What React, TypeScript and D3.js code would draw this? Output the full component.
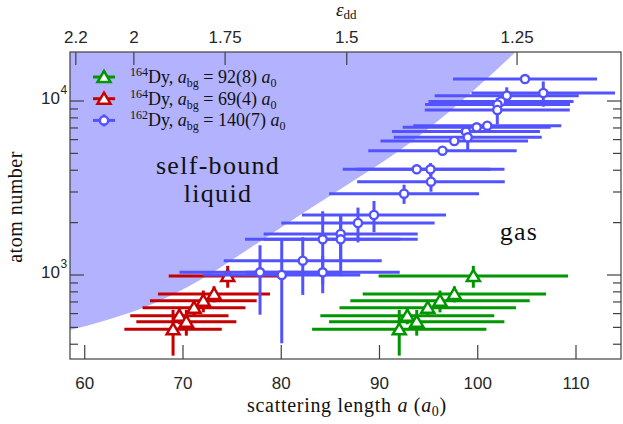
import React from 'react';
import * as d3 from 'd3';

// ---------- data ----------
const atomN = [987, 778, 712, 649, 584, 539, 487];
const atomNErr = [142, 82, 102, 70, 63, 91, 143];
const greenA = [99.55, 97.62, 96.16, 94.91, 92.83, 93.79, 92.01];
const greenAErr = [9.64, 9.33, 9.13, 8.98, 8.85, 8.92, 8.87];
const redA = [74.55, 73.16, 72.07, 71.12, 69.63, 70.34, 68.99];
const redAErr = [6.0, 5.7, 5.43, 5.24, 5.0, 5.09, 4.96];

const blueA = [104.81, 106.67, 102.95, 102.37, 102.01, 101.99, 100.97, 99.89, 98.8, 98.98, 97.61, 96.41, 93.79, 95.19, 95.24, 92.5, 89.44, 87.81, 86.05, 86.05, 84.22, 82.19, 84.22, 77.84, 80.05];
const blueAErr = [7.33, 7.3, 7.33, 7.38, 7.38, 7.38, 7.53, 7.53, 7.53, 7.53, 7.51, 7.55, 7.53, 7.53, 7.51, 7.63, 7.33, 7.8, 7.84, 7.84, 7.91, 8.04, 7.84, 8.19, 7.99];
const blueN = [13375, 11120, 10728, 9934, 9548, 8878, 7211, 7062, 6677, 6185, 5890, 5182, 4050, 4050, 3437, 2932, 2212, 1990, 1720, 1604, 1604, 1208, 1036, 1036, 1000];
const blueNErr = [500, 1840, 1260, 400, 300, 1530, 300, 300, 300, 956, 300, 300, 250, 350, 426, 370, 450, 450, 520, 620, 720, 440, 250, 445, 595];

const boundaryA = [58.5, 61.57, 66.65, 71.73, 76.82, 81.91, 87.0, 92.09, 97.18, 102.98, 104.3];
const boundaryN = [483, 537, 673, 936, 1429, 2212, 3381, 5226, 8770, 17218, 20200];

const xTicks = [60, 70, 80, 90, 100, 110];
const epsTicks = [2.2, 2, 1.75, 1.5, 1.25];
const epsLabels = ['2.2', '2', '1.75', '1.5', '1.25'];
const add = 130;
const yMajor = [1000, 10000];
const yMajorExp = ['3', '4'];
const yMinor = [400, 500, 600, 700, 800, 900, 2000, 3000, 4000, 5000, 6000, 7000, 8000, 9000];

const legendIso = ['164', '164', '162'];
const legendAbg = ['92(8)', '69(4)', '140(7)'];

const GREEN = 'rgb(0,150,0)';
const RED = 'rgb(196,0,0)';
const BLUE = 'rgb(82,82,255)';
const FILL = 'rgb(178,178,255)';
const AXIS = '#404040';
const SERIF = '"Liberation Serif", "DejaVu Serif", serif';
const SANS = '"Liberation Sans", Arial, sans-serif';

function tri(cx: number, cy: number) {
  return `M${cx},${cy - 6}L${cx + 6.5},${cy + 5}L${cx - 6.5},${cy + 5}Z`;
}

export default function App() {
  const W = 623, H = 424;
  const L = 70, R = 621, T = 52, B = 359;
  const x = d3.scaleLinear().domain([58.5, 114.58]).range([L, R]);
  const y = d3.scaleLog().domain([329, 19130]).range([B, T]);

  const bpts: [number, number][] = boundaryA.map((a, i) => [x(a), y(boundaryN[i])]);
  const bline = d3.line().curve(d3.curveMonotoneX)(bpts) || '';
  const fillPath = bline + `L${x(boundaryA[0]) - 50},${T - 50}L${x(boundaryA[0]) - 50},${y(boundaryN[0])}Z`;

  const series = [
    { a: greenA, ea: greenAErr, n: atomN, en: atomNErr, color: GREEN, m: 'tri' },
    { a: redA, ea: redAErr, n: atomN, en: atomNErr, color: RED, m: 'tri' },
    { a: blueA, ea: blueAErr, n: blueN, en: blueNErr, color: BLUE, m: 'circ' },
  ];

  return (
    <svg width={W} height={H} style={{ position: 'absolute', left: 0, top: 0, display: 'block' }}>
      <defs>
        <clipPath id="plot">
          <rect x={L} y={T} width={R - L} height={B - T} />
        </clipPath>
      </defs>
      <rect x={0} y={0} width={W} height={H} fill="white" />
      <path d={fillPath} fill={FILL} clipPath="url(#plot)" />

      {series.map((s, si) => (
        <g key={si}>
          {s.a.map((a, i) => {
            const cx = x(a), cy = y(s.n[i]);
            return (
              <g key={i}>
                <line x1={x(a - s.ea[i])} x2={x(a + s.ea[i])} y1={cy} y2={cy} stroke={s.color} strokeWidth={3} />
                <line x1={cx} x2={cx} y1={y(s.n[i] - s.en[i])} y2={y(s.n[i] + s.en[i])} stroke={s.color} strokeWidth={3} />
              </g>
            );
          })}
          {s.a.map((a, i) => {
            const cx = x(a), cy = y(s.n[i]);
            return s.m === 'tri' ? (
              <path key={'m' + i} d={tri(cx, cy)} fill="white" stroke={s.color} strokeWidth={2.5} strokeLinejoin="miter" />
            ) : (
              <circle key={'m' + i} cx={cx} cy={cy} r={4.1} fill="white" stroke={s.color} strokeWidth={2.4} />
            );
          })}
        </g>
      ))}

      {/* frame */}
      <rect x={L} y={T} width={R - L} height={B - T} fill="none" stroke={AXIS} strokeWidth={1.2} />
      {xTicks.map((t) => (
        <g key={'xt' + t}>
          <line x1={x(t)} x2={x(t)} y1={B} y2={B - 14} stroke={AXIS} strokeWidth={1.2} />
          <text x={x(t)} y={389} textAnchor="middle" fontFamily={SANS} fontSize={17} fill="#262626">{t}</text>
        </g>
      ))}
      {epsTicks.map((e, i) => (
        <g key={'et' + i}>
          <line x1={x(add / e)} x2={x(add / e)} y1={T} y2={T + 13} stroke={AXIS} strokeWidth={1.2} />
          <text x={x(add / e)} y={43} textAnchor="middle" fontFamily={SANS} fontSize={17} fill="#262626">{epsLabels[i]}</text>
        </g>
      ))}
      {yMajor.map((t, i) => (
        <g key={'ym' + t}>
          <line x1={L} x2={L + 14} y1={y(t)} y2={y(t)} stroke={AXIS} strokeWidth={1.2} />
          <line x1={R} x2={R - 14} y1={y(t)} y2={y(t)} stroke={AXIS} strokeWidth={1.2} />
          <text x={60} y={y(t) + 3} textAnchor="end" fontFamily={SANS} fontSize={17} fill="#262626">10</text>
          <text x={60.5} y={y(t) - 7} textAnchor="start" fontFamily={SANS} fontSize={12} fill="#262626">{yMajorExp[i]}</text>
        </g>
      ))}
      {yMinor.map((t) => (
        <g key={'yn' + t}>
          <line x1={L} x2={L + 8} y1={y(t)} y2={y(t)} stroke={AXIS} strokeWidth={1.2} />
          <line x1={R} x2={R - 8} y1={y(t)} y2={y(t)} stroke={AXIS} strokeWidth={1.2} />
        </g>
      ))}

      {/* axis labels */}
      <text x={347} y={412} textAnchor="middle" fontFamily={SERIF} fontSize={20} letterSpacing={0.7} fill="#111">
        scattering length <tspan fontStyle="italic">a</tspan> (<tspan fontStyle="italic">a</tspan><tspan fontSize={14} dy={4}>0</tspan><tspan dy={-4}>)</tspan>
      </text>
      <text transform="translate(22,207) rotate(-90)" textAnchor="middle" fontFamily={SERIF} fontSize={20} letterSpacing={0.5} fill="#111">atom number</text>
      <text x={336} y={16} fontFamily={SERIF} fontSize={19} fill="#111">
        <tspan fontStyle="italic">ε</tspan><tspan fontSize={13} dy={3}>dd</tspan>
      </text>

      {/* region labels */}
      <text x={218} y={174} textAnchor="middle" fontFamily={SERIF} fontSize={26} letterSpacing={1.3} fill="#111">self-bound</text>
      <text x={218} y={202} textAnchor="middle" fontFamily={SERIF} fontSize={26} letterSpacing={1.3} fill="#111">liquid</text>
      <text x={519} y={240} textAnchor="middle" fontFamily={SERIF} fontSize={26} letterSpacing={1.3} fill="#111">gas</text>

      {/* legend */}
      {series.map((s, i) => {
        const ly = 77 + i * 21.7;
        const lx = 104;
        return (
          <g key={'lg' + i}>
            <line x1={lx - 11} x2={lx + 11} y1={ly} y2={ly} stroke={s.color} strokeWidth={3} />
            <line x1={lx} x2={lx} y1={ly - 6} y2={ly + 6} stroke={s.color} strokeWidth={3} />
            {s.m === 'tri' ? (
              <path d={tri(lx, ly)} fill="white" stroke={s.color} strokeWidth={2.5} />
            ) : (
              <circle cx={lx} cy={ly} r={4.1} fill="white" stroke={s.color} strokeWidth={2.4} />
            )}
            <text x={130} y={ly + 6} fontFamily={SERIF} fontSize={18} fill="#111">
              <tspan fontSize={12} dy={-7}>{legendIso[i]}</tspan>
              <tspan dy={7}>Dy, </tspan>
              <tspan fontStyle="italic">a</tspan>
              <tspan fontSize={12} dy={4}>bg</tspan>
              <tspan dy={-4}>{' = ' + legendAbg[i] + ' '}</tspan>
              <tspan fontStyle="italic">a</tspan>
              <tspan fontSize={12} dy={4}>0</tspan>
            </text>
          </g>
        );
      })}
    </svg>
  );
}
